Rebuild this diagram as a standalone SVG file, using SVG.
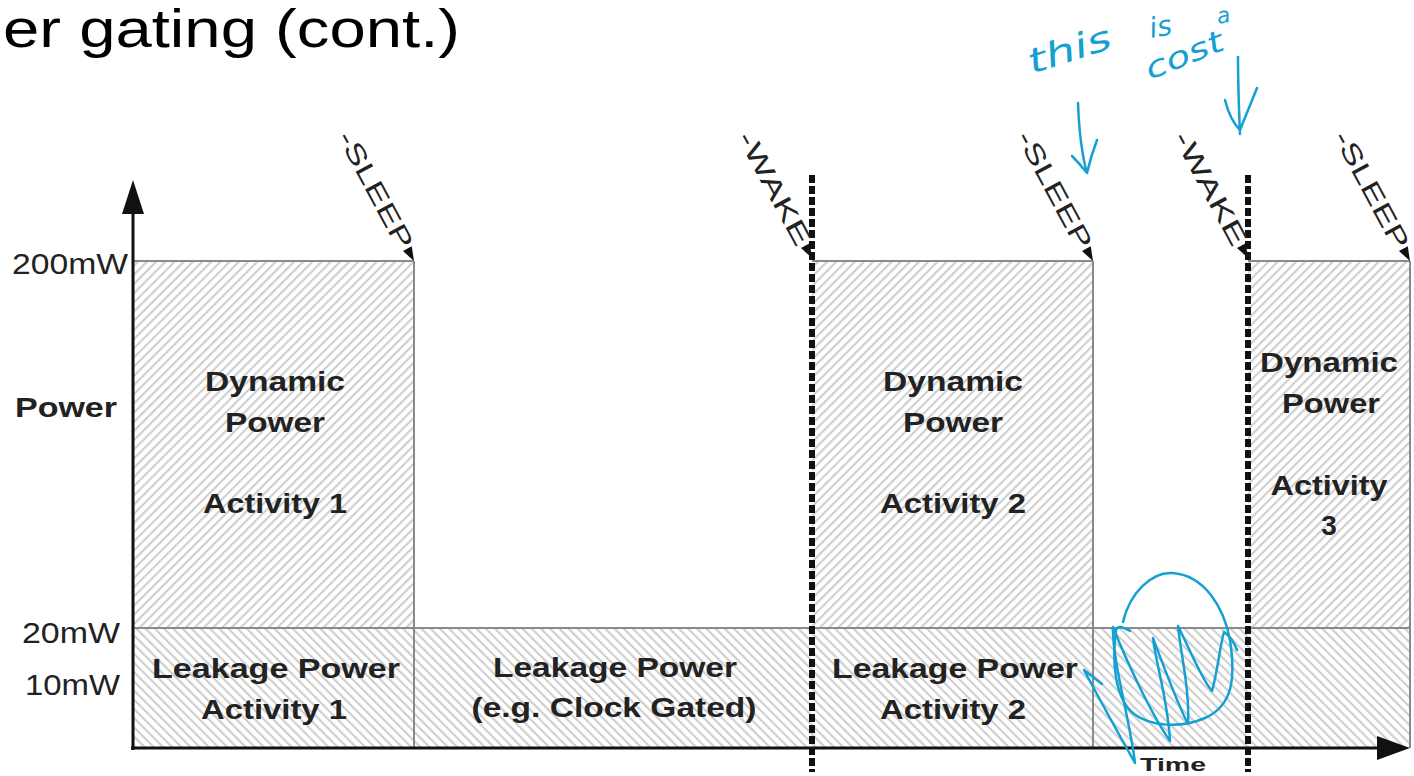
<svg xmlns="http://www.w3.org/2000/svg" width="1414" height="776" viewBox="0 0 1414 776">
<style>
.t{font-family:"Liberation Sans",Arial,sans-serif;fill:#222}
.b{font-weight:bold;font-size:28px;text-anchor:middle}
.r{font-size:30px}
.rot{font-size:26px;text-anchor:end}
.g{stroke:#8a8a8a;stroke-width:2;fill:none}
.ax{stroke:#111;stroke-width:3;fill:none}
.dash{stroke:#111;stroke-width:6;stroke-dasharray:8 3;fill:none}
.hand{fill:none;stroke:#14a0d2;stroke-width:2.5;stroke-linecap:round;stroke-linejoin:round}
.ht{font-family:"DejaVu Sans","Liberation Sans",sans-serif;font-style:italic;fill:#14a0d2}
</style>
<defs>
<pattern id="hUp" patternUnits="userSpaceOnUse" width="6.5" height="10" patternTransform="rotate(45)">
<line x1="3" y1="0" x2="3" y2="10" stroke="#cbcbcb" stroke-width="2"/>
</pattern>
<pattern id="hDown" patternUnits="userSpaceOnUse" width="6.5" height="10" patternTransform="rotate(-45)">
<line x1="3" y1="0" x2="3" y2="10" stroke="#cbcbcb" stroke-width="2"/>
</pattern>
</defs>
<rect width="1414" height="776" fill="#fff"/>

<text class="t" x="3" y="47" font-size="54" textLength="457" lengthAdjust="spacingAndGlyphs" style="fill:#000">er gating (cont.)</text>

<g id="regions">
<g id="dyn1"><rect x="133" y="261" width="281" height="367" fill="url(#hUp)"/></g>
<g id="dyn2"><rect x="812" y="261" width="281" height="367" fill="url(#hUp)"/></g>
<g id="dyn3"><rect x="1248" y="261" width="162" height="367" fill="url(#hUp)"/></g>
<g id="leak"><rect x="133" y="628" width="1277" height="120" fill="url(#hDown)"/></g>
</g>

<g id="connectors">
<path class="g" d="M133,261H414M812,261H1093M1248,261H1410M133,628H1410M414,261V748M1093,261V748M1410,261V748"/>
<path class="dash" d="M812,175V772M1248,175V772"/>
<path class="ax" d="M133,750V210M131,748H1380"/>
<polygon points="133,180 122,214 144,214" fill="#111"/>
<polygon points="1410,748 1377,736 1377,760" fill="#111"/>
</g>

<g id="axis-labels" class="t">
<text class="r" x="12" y="274" textLength="116" lengthAdjust="spacingAndGlyphs">200mW</text>
<text class="r" x="22" y="643" textLength="98" lengthAdjust="spacingAndGlyphs">20mW</text>
<text class="r" x="25" y="695" textLength="95" lengthAdjust="spacingAndGlyphs">10mW</text>
<text x="15" y="417" font-size="28" font-weight="bold" textLength="102" lengthAdjust="spacingAndGlyphs">Power</text>
<text x="1140" y="771" font-size="18" font-weight="bold" textLength="66" lengthAdjust="spacingAndGlyphs">Time</text>
</g>

<g id="dyn1-label" class="t b">
<text x="275" y="391" textLength="140" lengthAdjust="spacingAndGlyphs">Dynamic</text>
<text x="275" y="432" textLength="100" lengthAdjust="spacingAndGlyphs">Power</text>
<text x="275" y="513" textLength="144" lengthAdjust="spacingAndGlyphs">Activity 1</text>
</g>
<g id="dyn2-label" class="t b">
<text x="953" y="391" textLength="140" lengthAdjust="spacingAndGlyphs">Dynamic</text>
<text x="953" y="432" textLength="100" lengthAdjust="spacingAndGlyphs">Power</text>
<text x="953" y="513" textLength="146" lengthAdjust="spacingAndGlyphs">Activity 2</text>
</g>
<g id="dyn3-label" class="t b">
<text x="1329" y="372" textLength="138" lengthAdjust="spacingAndGlyphs">Dynamic</text>
<text x="1331" y="413" textLength="98" lengthAdjust="spacingAndGlyphs">Power</text>
<text x="1329" y="495" textLength="117" lengthAdjust="spacingAndGlyphs">Activity</text>
<text x="1329" y="535">3</text>
</g>
<g id="leak1-label" class="t b">
<text x="276" y="678" textLength="248" lengthAdjust="spacingAndGlyphs">Leakage Power</text>
<text x="274" y="719" textLength="146" lengthAdjust="spacingAndGlyphs">Activity 1</text>
</g>
<g id="leak-gated-label" class="t b">
<text x="615" y="677" textLength="244" lengthAdjust="spacingAndGlyphs">Leakage Power</text>
<text x="614" y="717" textLength="285" lengthAdjust="spacingAndGlyphs">(e.g. Clock Gated)</text>
</g>
<g id="leak2-label" class="t b">
<text x="955" y="678" textLength="246" lengthAdjust="spacingAndGlyphs">Leakage Power</text>
<text x="953" y="719" textLength="146" lengthAdjust="spacingAndGlyphs">Activity 2</text>
</g>

<g id="sleep1" transform="translate(414,261) rotate(61.7)">
<text class="t rot" x="-16" y="9" textLength="130" lengthAdjust="spacingAndGlyphs">-SLEEP</text>
<polygon points="0,0 -14,-5 -14,5" fill="#111"/>
</g>
<g id="wake1" transform="translate(812,258) rotate(61.7)">
<text class="t rot" x="-16" y="9" textLength="126" lengthAdjust="spacingAndGlyphs">-WAKE</text>
<polygon points="0,0 -14,-5 -14,5" fill="#111"/>
</g>
<g id="sleep2" transform="translate(1093,261) rotate(61.7)">
<text class="t rot" x="-16" y="9" textLength="130" lengthAdjust="spacingAndGlyphs">-SLEEP</text>
<polygon points="0,0 -14,-5 -14,5" fill="#111"/>
</g>
<g id="wake2" transform="translate(1248,258) rotate(61.7)">
<text class="t rot" x="-16" y="9" textLength="126" lengthAdjust="spacingAndGlyphs">-WAKE</text>
<polygon points="0,0 -14,-5 -14,5" fill="#111"/>
</g>
<g id="sleep3" transform="translate(1410,261) rotate(61.7)">
<text class="t rot" x="-16" y="9" textLength="130" lengthAdjust="spacingAndGlyphs">-SLEEP</text>
<polygon points="0,0 -14,-5 -14,5" fill="#111"/>
</g>

<g id="annotation">
<text class="ht" transform="translate(1032,74) rotate(-18)" font-size="34" textLength="86" lengthAdjust="spacingAndGlyphs">this</text>
<text class="ht" transform="translate(1151,38) rotate(-10)" font-size="28">is</text>
<text class="ht" transform="translate(1218,24) rotate(-10)" font-size="22">a</text>
<text class="ht" transform="translate(1150,80) rotate(-22)" font-size="30" textLength="82" lengthAdjust="spacingAndGlyphs">cost</text>
<path class="hand" d="M1078,103 C1079,130 1082,155 1087,173 M1072,156 C1078,162 1083,168 1087,173 C1090,160 1094,148 1097,140"/>
<path class="hand" d="M1238,57 C1238,85 1239,110 1240,134 M1225,100 C1228,112 1232,122 1240,130 C1246,115 1252,100 1257,88"/>
<path class="hand" d="M1123,622 C1130,592 1152,572 1172,573 C1205,575 1224,608 1230,640 C1236,680 1232,706 1205,718 C1180,729 1150,726 1134,714 C1114,698 1112,660 1116,630 C1118,624 1124,628 1130,631"/>
<path class="hand" d="M1084,670 L1102,684 M1084,670 C1100,700 1122,740 1135,763 C1130,720 1112,660 1113,627 C1130,670 1155,720 1170,741 C1168,700 1155,660 1153,638 C1165,670 1178,705 1188,724 C1190,690 1180,650 1178,626 C1190,650 1202,680 1212,691 C1218,670 1220,645 1224,632 C1230,636 1234,642 1237,650"/>
</g>
</svg>
